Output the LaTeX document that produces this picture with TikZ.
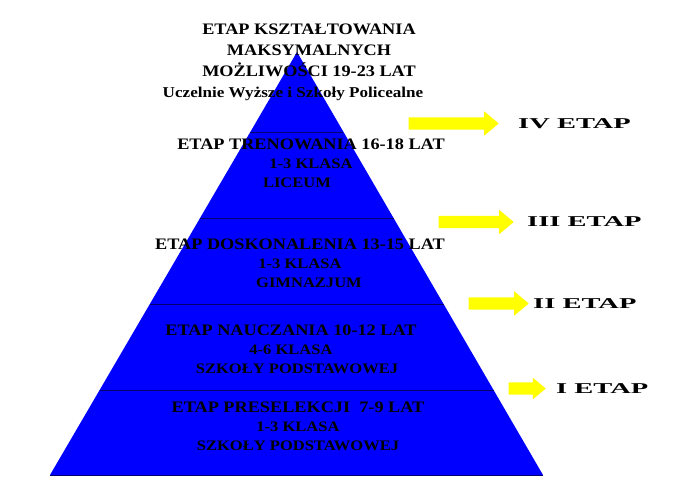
\documentclass[tikz,border=0pt]{standalone}
\usepackage{fontspec}
\setmainfont{Liberation Serif}
\newfontfamily\szeroki[FakeStretch=1.14]{Liberation Serif}
\newfontfamily\etapfont[FakeStretch=1.9]{Liberation Serif}
\usetikzlibrary{positioning,shapes.arrows,calc}

\definecolor{niebieski}{RGB}{0,0,255}
\definecolor{granat}{RGB}{0,0,110}
\definecolor{zolty}{RGB}{255,255,0}

\begin{document}
\begin{tikzpicture}[
  x=1pt, y=-1pt,
  poziom/.style={font=\szeroki\bfseries\fontsize{16}{19}\selectfont, align=center,
                 inner sep=0pt, text=black},
  strzalka/.style={single arrow, fill=zolty, draw=none, inner xsep=0pt, inner ysep=6pt,
                   minimum width=24pt, single arrow head extend=6pt,
                   single arrow tip angle=80},
  etap/.style={font=\etapfont\bfseries\fontsize{15}{18}\selectfont, inner sep=0pt},
  linia/.style={granat, line width=0.8pt}
]
  \useasboundingbox (0,0) rectangle (676,485);

  % Piramida
  \coordinate (szczyt) at (297,52);
  \coordinate (lewy) at (50,475);
  \coordinate (prawy) at (543,475);
  \fill[niebieski] (szczyt) -- (lewy) -- (prawy) -- cycle;
  \foreach \t in {0.189,0.394,0.597,0.799,1}
    \draw[linia] ($(szczyt)!\t!(lewy)$) -- ($(szczyt)!\t!(prawy)$);

  % Etapy
  \node[poziom, font=\szeroki\bfseries\fontsize{16}{21}\selectfont] (ksztaltowanie) at (309,62)
       {ETAP KSZTAŁTOWANIA\\MAKSYMALNYCH\\MOŻLIWOŚCI 19-23 LAT\\
        {\fontsize{15}{21}\selectfont Uczelnie Wyższe i Szkoły Policealne}\hspace*{32pt}};
  \node[poziom] (trenowanie) at (311,163)
       {ETAP TRENOWANIA 16-18 LAT\\{\fontsize{14.5}{18}\selectfont 1-3 KLASA}\hspace*{28pt}\\
        {\fontsize{14.5}{18}\selectfont LICEUM}\hspace*{28pt}};
  \node[poziom] (doskonalenie) at (300,263)
       {ETAP DOSKONALENIA 13-15 LAT\\{\fontsize{14.5}{18}\selectfont 1-3 KLASA}\hspace*{38pt}\\
        \hspace*{18pt}{\fontsize{14.5}{18}\selectfont GIMNAZJUM}};
  \node[poziom] (nauczanie) at (291,349)
       {ETAP NAUCZANIA 10-12 LAT\\{\fontsize{14.5}{18}\selectfont 4-6 KLASA}\\
        \hspace*{12pt}{\fontsize{14.5}{18}\selectfont SZKOŁY PODSTAWOWEJ}};
  \node[poziom] (preselekcja) at (298,426.5)
       {ETAP PRESELEKCJI\ \ 7-9 LAT\\{\fontsize{14.5}{18}\selectfont 1-3 KLASA}\\
        {\fontsize{14.5}{18}\selectfont SZKOŁY PODSTAWOWEJ}};

  % Strzalki
  \node[strzalka, minimum height=90pt] (s4) at (450,123.5) {};
  \node[strzalka, minimum height=75pt] (s3) at (472.5,222) {};
  \node[strzalka, minimum height=60pt] (s2) at (495,303.5) {};
  \node[strzalka, minimum height=37pt, minimum width=21pt, single arrow head extend=4.5pt]
       (s1) at (523.5,388.5) {};

  \node[etap, right=19pt of s4] (e4) {IV ETAP};
  \node[etap, right=13pt of s3] (e3) {III ETAP};
  \node[etap, right=4pt of s2] (e2) {II ETAP};
  \node[etap, right=10pt of s1] (e1) {I ETAP};
\end{tikzpicture}
\end{document}
